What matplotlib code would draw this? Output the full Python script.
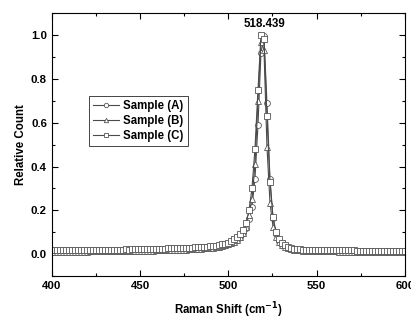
import matplotlib
matplotlib.use("Agg")
import matplotlib.pyplot as plt
from matplotlib.ticker import MultipleLocator

plt.rcParams['font.family'] = ['Liberation Sans', 'DejaVu Sans']
plt.rcParams['font.weight'] = 'bold'

# raman shift (cm-1), common sampling grid
shift = [399.5, 401.2, 402.9, 404.6, 406.3, 408.0, 409.7, 411.4, 413.1, 414.8,
         416.5, 418.2, 419.9, 421.6, 423.3, 425.0, 426.7, 428.4, 430.1, 431.8,
         433.5, 435.2, 436.9, 438.6, 440.3, 442.0, 443.7, 445.4, 447.1, 448.8,
         450.5, 452.2, 453.9, 455.6, 457.3, 459.0, 460.7, 462.4, 464.1, 465.8,
         467.5, 469.2, 470.9, 472.6, 474.3, 476.0, 477.7, 479.4, 481.1, 482.8,
         484.5, 486.2, 487.9, 489.6, 491.3, 493.0, 494.7, 496.4, 498.1, 499.8,
         501.5, 503.2, 504.9, 506.6, 508.3, 510.0, 511.7, 513.4, 515.1, 516.8,
         518.5, 520.2, 521.9, 523.6, 525.3, 527.0, 528.7, 530.4, 532.1, 533.8,
         535.5, 537.2, 538.9, 540.6, 542.3, 544.0, 545.7, 547.4, 549.1, 550.8,
         552.5, 554.2, 555.9, 557.6, 559.3, 561.0, 562.7, 564.4, 566.1, 567.8,
         569.5, 571.2, 572.9, 574.6, 576.3, 578.0, 579.7, 581.4, 583.1, 584.8,
         586.5, 588.2, 589.9, 591.6, 593.3, 595.0, 596.7, 598.4, 600.1]

sample_a = [0.012, 0.012, 0.012, 0.013, 0.012, 0.012, 0.013, 0.012, 0.013, 0.013,
            0.013, 0.013, 0.013, 0.014, 0.013, 0.014, 0.014, 0.014, 0.014, 0.014,
            0.015, 0.014, 0.015, 0.015, 0.015, 0.015, 0.016, 0.016, 0.016, 0.016,
            0.017, 0.017, 0.017, 0.018, 0.018, 0.018, 0.019, 0.019, 0.019, 0.020,
            0.020, 0.021, 0.021, 0.022, 0.022, 0.023, 0.023, 0.024, 0.025, 0.025,
            0.026, 0.027, 0.028, 0.029, 0.031, 0.033, 0.035, 0.038, 0.041, 0.045,
            0.050, 0.057, 0.066, 0.079, 0.097, 0.120, 0.160, 0.215, 0.345, 0.590,
            0.920, 0.995, 0.690, 0.345, 0.165, 0.090, 0.060, 0.045, 0.035, 0.029,
            0.025, 0.022, 0.020, 0.019, 0.018, 0.017, 0.016, 0.016, 0.015, 0.015,
            0.015, 0.014, 0.014, 0.014, 0.014, 0.013, 0.013, 0.013, 0.013, 0.013,
            0.013, 0.013, 0.012, 0.012, 0.012, 0.012, 0.012, 0.012, 0.012, 0.012,
            0.012, 0.012, 0.012, 0.012, 0.012, 0.012, 0.012, 0.012, 0.012]

sample_b = [0.010, 0.010, 0.010, 0.010, 0.011, 0.010, 0.010, 0.011, 0.011, 0.011,
            0.011, 0.011, 0.011, 0.012, 0.012, 0.012, 0.012, 0.012, 0.012, 0.013,
            0.013, 0.013, 0.013, 0.013, 0.014, 0.014, 0.014, 0.014, 0.015, 0.015,
            0.015, 0.015, 0.016, 0.016, 0.016, 0.017, 0.017, 0.017, 0.018, 0.018,
            0.019, 0.019, 0.020, 0.020, 0.021, 0.021, 0.022, 0.023, 0.023, 0.024,
            0.025, 0.026, 0.027, 0.028, 0.030, 0.032, 0.034, 0.037, 0.041, 0.045,
            0.050, 0.057, 0.066, 0.079, 0.096, 0.125, 0.180, 0.250, 0.410, 0.700,
            0.970, 0.935, 0.490, 0.235, 0.126, 0.080, 0.055, 0.041, 0.032, 0.027,
            0.023, 0.020, 0.018, 0.017, 0.016, 0.015, 0.014, 0.014, 0.013, 0.013,
            0.013, 0.012, 0.012, 0.012, 0.012, 0.012, 0.011, 0.011, 0.011, 0.011,
            0.011, 0.011, 0.011, 0.010, 0.010, 0.010, 0.010, 0.010, 0.010, 0.010,
            0.010, 0.010, 0.010, 0.010, 0.010, 0.010, 0.010, 0.010, 0.010]

sample_c = [0.018, 0.018, 0.019, 0.018, 0.018, 0.019, 0.018, 0.019, 0.019, 0.018,
            0.019, 0.019, 0.019, 0.020, 0.019, 0.020, 0.020, 0.020, 0.020, 0.020,
            0.021, 0.020, 0.021, 0.021, 0.021, 0.022, 0.021, 0.022, 0.022, 0.022,
            0.023, 0.023, 0.023, 0.024, 0.024, 0.024, 0.025, 0.025, 0.025, 0.026,
            0.026, 0.027, 0.027, 0.028, 0.028, 0.029, 0.029, 0.030, 0.031, 0.031,
            0.032, 0.033, 0.034, 0.035, 0.037, 0.039, 0.041, 0.044, 0.048, 0.053,
            0.059, 0.067, 0.077, 0.090, 0.108, 0.140, 0.200, 0.300, 0.480, 0.750,
            1.000, 0.985, 0.630, 0.330, 0.170, 0.103, 0.070, 0.050, 0.040, 0.033,
            0.028, 0.025, 0.023, 0.022, 0.021, 0.020, 0.020, 0.019, 0.019, 0.019,
            0.018, 0.018, 0.018, 0.018, 0.018, 0.017, 0.017, 0.017, 0.017, 0.017,
            0.017, 0.017, 0.016, 0.016, 0.016, 0.016, 0.016, 0.016, 0.016, 0.016,
            0.016, 0.016, 0.016, 0.015, 0.015, 0.015, 0.015, 0.015, 0.015]

series = [("Sample (A)", sample_a, 'o'),
          ("Sample (B)", sample_b, '^'),
          ("Sample (C)", sample_c, 's')]

fig = plt.figure(figsize=(4.11, 3.2), dpi=100)
ax = fig.add_axes([0.126, 0.1375, 0.859, 0.8205])

for label, y, m in series:
    ax.plot(shift, y, color='#4a4a4a', lw=0.8, marker=m, markersize=4.2,
            markerfacecolor='white', markeredgecolor='#555555',
            markeredgewidth=0.6, label=label)

ax.set_xlim(400, 600)
ax.set_ylim(-0.1, 1.1)
ax.xaxis.set_major_locator(MultipleLocator(50))
ax.xaxis.set_minor_locator(MultipleLocator(25))
ax.yaxis.set_major_locator(MultipleLocator(0.2))
ax.yaxis.set_minor_locator(MultipleLocator(0.1))
ax.tick_params(which='both', direction='in', top=True, right=True,
               labelsize=8.2, width=0.8)
ax.tick_params(which='major', length=4)
ax.tick_params(which='minor', length=2.5)
for s in ax.spines.values():
    s.set_linewidth(0.8)

ax.text(520.7, 1.05, "518.439", ha='center', va='center', fontsize=8.3,
        fontweight='bold')

ax.set_xlabel("Raman Shift (cm$^{\\mathbf{-1}}$)", fontsize=8.3,
              fontweight='bold', labelpad=7)
ax.set_ylabel("Relative Count", fontsize=8.3, fontweight='bold', labelpad=3)

leg = ax.legend(loc='upper left', bbox_to_anchor=(0.106, 0.686),
                borderaxespad=0, fontsize=8.3, fancybox=False, framealpha=1,
                edgecolor='#444444', handlelength=2.2, handletextpad=0.4,
                borderpad=0.35, labelspacing=0.25, markerscale=0.75)
leg.get_frame().set_linewidth(0.7)

fig.savefig("out.png", dpi=100)
